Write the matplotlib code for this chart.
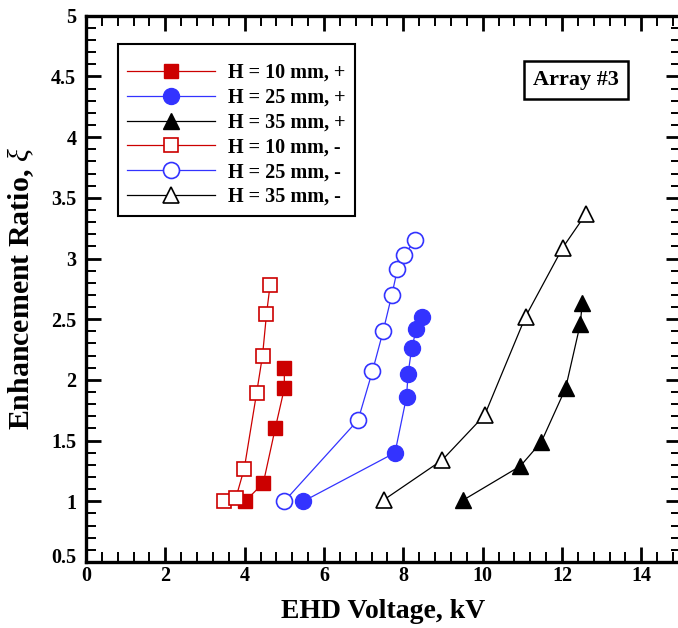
import matplotlib
matplotlib.use("Agg")
import matplotlib.pyplot as plt
from matplotlib.ticker import MultipleLocator
import matplotlib.transforms as mtransforms

# ---- data ----
v10_pos = [4.01, 4.47, 4.77, 5.00, 5.00]
r10_pos = [1.00, 1.15, 1.60, 1.93, 2.10]
v25_pos = [5.48, 7.79, 8.08, 8.12, 8.21, 8.33, 8.46]
r25_pos = [1.00, 1.40, 1.86, 2.05, 2.26, 2.42, 2.52]
v35_pos = [9.51, 10.95, 11.48, 12.09, 12.46, 12.51]
r35_pos = [1.01, 1.29, 1.49, 1.93, 2.46, 2.63]
v10_neg = [3.48, 3.78, 3.99, 4.30, 4.45, 4.55, 4.64]
r10_neg = [1.00, 1.03, 1.27, 1.89, 2.20, 2.54, 2.78]
v25_neg = [5.00, 6.86, 7.22, 7.49, 7.71, 7.85, 8.02, 8.30]
r25_neg = [1.00, 1.67, 2.07, 2.40, 2.70, 2.91, 3.03, 3.15]
v35_neg = [7.50, 8.98, 10.05, 11.08, 12.02, 12.61]
r35_neg = [1.01, 1.34, 1.71, 2.52, 3.09, 3.37]

labels = ["H = 10 mm, +", "H = 25 mm, +", "H = 35 mm, +",
          "H = 10 mm, -", "H = 25 mm, -", "H = 35 mm, -"]
xticks = [0, 2, 4, 6, 8, 10, 12, 14]
yticks = [0.5, 1, 1.5, 2, 2.5, 3, 3.5, 4, 4.5, 5]

RED = "#cc0000"
BLUE = "#3333ff"
BLACK = "#000000"

plt.rcParams['font.family'] = ['Liberation Serif', 'DejaVu Serif']
plt.rcParams['font.weight'] = 'bold'
plt.rcParams['mathtext.fontset'] = 'custom'
plt.rcParams['mathtext.it'] = 'Liberation Serif:italic:normal'
plt.rcParams['mathtext.rm'] = 'Liberation Serif'

fig = plt.figure(figsize=(6.78, 6.28), dpi=100)
ax = fig.add_axes([86/678, 66/628, 595/678, 546.3/628])

lw = 0.9
ms_sq = 10.5
ms_c = 11.5
ms_t = 12
mew = 1.2

ax.plot(v10_pos, r10_pos, color=RED, lw=lw, marker='s', ms=ms_sq, mfc=RED, mec=RED, label=labels[0])
ax.plot(v25_pos, r25_pos, color=BLUE, lw=lw, marker='o', ms=ms_c, mfc=BLUE, mec=BLUE, label=labels[1])
ax.plot(v35_pos, r35_pos, color=BLACK, lw=lw, marker='^', ms=ms_t, mfc=BLACK, mec=BLACK, label=labels[2])
ax.plot(v10_neg, r10_neg, color=RED, lw=lw, marker='s', ms=ms_sq, mfc='white', mec=RED, mew=mew, label=labels[3])
ax.plot(v25_neg, r25_neg, color=BLUE, lw=lw, marker='o', ms=ms_c, mfc='white', mec=BLUE, mew=mew, label=labels[4])
ax.plot(v35_neg, r35_neg, color=BLACK, lw=lw, marker='^', ms=ms_t, mfc='white', mec=BLACK, mew=mew, label=labels[5])

ax.set_xlim(0, 15)
ax.set_ylim(0.5, 5)
ax.xaxis.set_minor_locator(MultipleLocator(0.4))
ax.yaxis.set_minor_locator(MultipleLocator(0.1))
ax.set_xticks(xticks)
ax.set_xticklabels([f"{v:g}" for v in xticks])
ax.set_yticks(yticks)
ax.set_yticklabels([f"{v:g}" for v in yticks])

for s in ax.spines.values():
    s.set_linewidth(2.4)
ax.tick_params(which='major', direction='in', length=11, width=2.0,
               top=True, right=True, labelsize=14.5)
ax.tick_params(which='minor', direction='in', length=7, width=1.4,
               top=True, right=True)
ax.tick_params(axis='x', which='major', pad=3)
ax.tick_params(axis='y', which='major', pad=7)
for lbl in ax.get_xticklabels() + ax.get_yticklabels():
    lbl.set_fontweight('bold')
# lowest y label sits slightly above its tick in the original
ylbls = ax.get_yticklabels()
ylbls[0].set_transform(ylbls[0].get_transform() +
                       mtransforms.ScaledTranslation(0, 5/72, fig.dpi_scale_trans))

ax.set_xlabel("EHD Voltage, kV", fontsize=20, fontweight='bold', labelpad=9)
ax.set_ylabel(r"Enhancement Ratio, $\xi$", fontsize=21.5, fontweight='bold', labelpad=11)

leg = ax.legend(loc='upper left', bbox_to_anchor=(32/595, 518/546.3), borderaxespad=0,
                fontsize=14.5, handlelength=4.37, numpoints=1, fancybox=False,
                edgecolor='black', framealpha=1, labelspacing=0.24,
                borderpad=0.45, handletextpad=0.65, title=' ', title_fontsize=4)
leg.get_frame().set_linewidth(1.5)
for t in leg.get_texts():
    t.set_fontweight('bold')

ax.text((576-86)/595, (562-80)/546.3, "Array #3", transform=ax.transAxes,
        ha='center', va='center', fontsize=16, fontweight='bold',
        bbox=dict(boxstyle='square,pad=0.42', fc='white', ec='black', lw=1.8))

fig.savefig("out.png", dpi=100)
